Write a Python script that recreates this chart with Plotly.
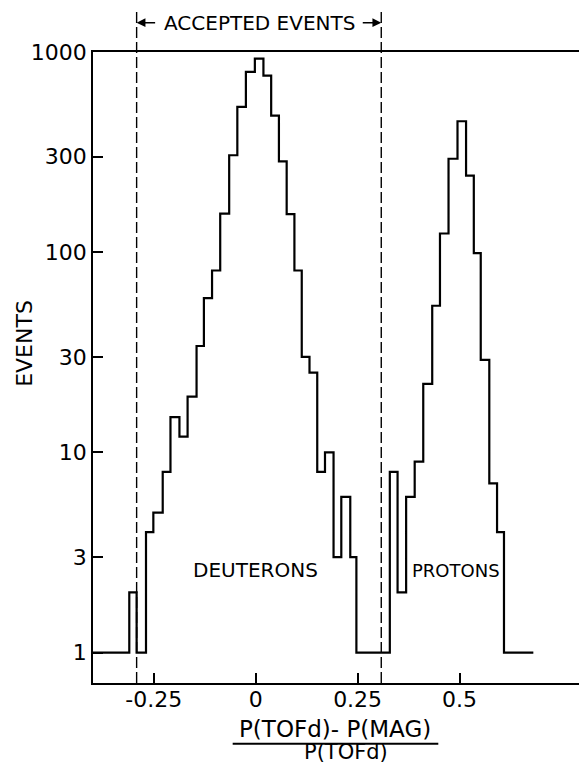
import plotly.graph_objects as go

# Histogram of (P(TOFd) - P(MAG)) / P(TOFd): bin edges and events per bin
bin_edges = [-0.41, -0.310, -0.292, -0.269, -0.251, -0.228, -0.209, -0.187, -0.167,
             -0.145, -0.127, -0.107, -0.087, -0.065, -0.045, -0.024, -0.002,
             0.019, 0.038, 0.057, 0.076, 0.095, 0.113, 0.132, 0.151, 0.170,
             0.191, 0.210, 0.232, 0.247, 0.329, 0.348, 0.369, 0.390, 0.411,
             0.433, 0.452, 0.473, 0.495, 0.516, 0.535, 0.552, 0.573, 0.592,
             0.609, 0.681]
counts = [1, 2, 1, 4, 5, 8, 15, 12, 19,
          34, 59, 81, 156, 305, 532, 796, 927,
          762, 481, 284, 155, 81, 30, 25, 8, 10,
          3, 6, 3, 1, 8, 2, 6, 9, 22,
          54, 124, 293, 451, 241, 99, 29, 7, 4,
          1]

# accepted-event window limits
cut_low = -0.292
cut_high = 0.308

x_ticks = [-0.25, 0, 0.25, 0.5]
x_tick_labels = ["-0.25", "0", "0.25", "0.5"]
y_ticks = [1, 3, 10, 30, 100, 300, 1000]
y_tick_labels = ["1", "3", "10", "30", "100", "300", "1000"]

FONT = "DejaVu Sans"
INK = "black"

fig = go.Figure()

fig.add_trace(go.Scatter(
    x=bin_edges,
    y=counts + [counts[-1]],
    mode="lines",
    line=dict(shape="hv", color=INK, width=2.2),
    hoverinfo="skip",
    showlegend=False,
))

# dashed cut lines, running up above the frame to the window label
for xc in (cut_low, cut_high):
    fig.add_shape(type="line", xref="x", yref="paper",
                  x0=xc, x1=xc, y0=0, y1=1.069,
                  line=dict(color=INK, width=1.4, dash="11px,4px"))

# window label with arrows pointing to the cut lines
label_y = 1.0464
fig.add_annotation(x=0.009, y=label_y, xref="x", yref="paper",
                   xanchor="center", yanchor="middle",
                   text="ACCEPTED EVENTS", showarrow=False,
                   font=dict(family=FONT, size=20, color=INK))
fig.add_annotation(x=cut_low, y=label_y, xref="x", yref="paper",
                   ax=20, ay=0, text="", showarrow=True,
                   arrowhead=2, arrowsize=1.1, arrowwidth=1.6, arrowcolor=INK)
fig.add_annotation(x=cut_high, y=label_y, xref="x", yref="paper",
                   ax=-20, ay=0, text="", showarrow=True,
                   arrowhead=2, arrowsize=1.1, arrowwidth=1.6, arrowcolor=INK)

# particle labels
fig.add_annotation(x=-0.159, y=0.41, xref="x", yref="y",
                   text="DEUTERONS", showarrow=False,
                   xanchor="left", yanchor="middle",
                   font=dict(family=FONT, size=20, color=INK))
fig.add_annotation(x=0.379, y=0.41, xref="x", yref="y",
                   text="PROTONS", showarrow=False,
                   xanchor="left", yanchor="middle",
                   font=dict(family=FONT, size=18, color=INK))

# y-axis title
fig.add_annotation(x=-0.140, y=0.539, xref="paper", yref="paper",
                   xanchor="center", yanchor="middle",
                   text="EVENTS", showarrow=False, textangle=-90,
                   font=dict(family=FONT, size=22, color=INK))

# x-axis title as a fraction
fig.add_annotation(x=0.498, y=-0.0729, xref="paper", yref="paper",
                   xanchor="center", yanchor="middle",
                   text="P(TOFd)- P(MAG)", showarrow=False,
                   font=dict(family=FONT, size=23, color=INK))
fig.add_shape(type="line", xref="paper", yref="paper",
              x0=0.2874, x1=0.7105, y0=-0.0962, y1=-0.0962,
              line=dict(color=INK, width=2))
fig.add_annotation(x=0.5216, y=-0.1086, xref="paper", yref="paper",
                   xanchor="center", yanchor="middle",
                   text="P(TOFd)", showarrow=False,
                   font=dict(family=FONT, size=21, color=INK))

fig.update_layout(
    width=579, height=767,
    margin=dict(l=93, r=0, t=52, b=84),
    paper_bgcolor="white", plot_bgcolor="white",
    font=dict(family=FONT, size=22, color=INK),
    showlegend=False,
)
fig.update_xaxes(
    range=[-0.399, 0.793],
    tickvals=x_ticks, ticktext=x_tick_labels,
    ticks="inside", ticklen=10, tickwidth=1.6, tickcolor=INK,
    ticklabelstandoff=-4,
    showline=True, linecolor=INK, linewidth=1.6, mirror=True,
    showgrid=False, zeroline=False,
    tickfont=dict(family=FONT, size=22, color=INK),
)
fig.update_yaxes(
    type="log", range=[-0.152, 3.0],
    tickvals=y_ticks, ticktext=y_tick_labels,
    ticks="inside", ticklen=10, tickwidth=1.6, tickcolor=INK,
    showline=True, linecolor=INK, linewidth=1.6, mirror=False,
    showgrid=False, zeroline=False,
    tickfont=dict(family=FONT, size=22, color=INK),
)

fig.write_html("out.html")
